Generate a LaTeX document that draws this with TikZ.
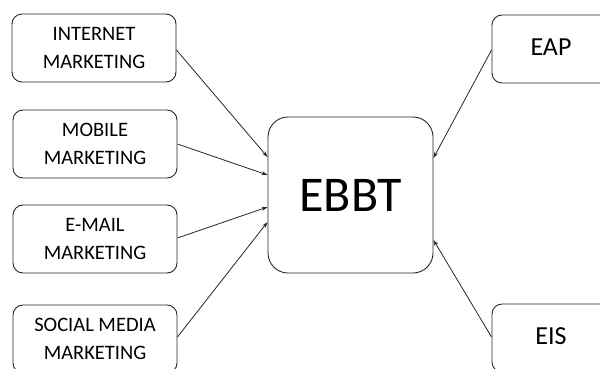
\documentclass[tikz,border=0pt]{standalone}
\usepackage{fontspec}
\setmainfont{Carlito}
\usetikzlibrary{arrows.meta,calc}
\begin{document}
\begin{tikzpicture}[x=1pt,y=-1pt,
  box/.style={draw=black!85,line width=0.9pt,rounded corners=10pt,align=center,
    inner sep=0pt,minimum width=164pt,minimum height=68pt,
    font=\fontsize{20.5}{28.5}\selectfont},
  sbox/.style={box,minimum width=118pt,font=\fontsize{26}{30}\selectfont},
  big/.style={draw=black!85,line width=0.9pt,rounded corners=20pt,inner sep=0pt,
    minimum width=165pt,minimum height=156pt,font=\fontsize{50}{56}\selectfont},
  arr/.style={-{Stealth[length=6pt,width=4pt]},line width=0.8pt,black!85}]
\useasboundingbox (0,0) rectangle (600,368);
\node[box] (inet) at (94,48) {INTERNET\\MARKETING};
\node[box] (mob) at (95,144) {MOBILE\\MARKETING};
\node[box] (mail) at (95,239) {E-MAIL\\MARKETING};
\node[box] (soc) at (95,339) {SOCIAL MEDIA\\MARKETING};
\node[big] (ebbt) at (350.5,195) {EBBT};
\node[sbox] (eap) at (551,49) {\raisebox{4pt}{EAP}};
\node[sbox] (eis) at (551,338) {\raisebox{3pt}{EIS}};
\draw[arr] ($(inet.east)+(0,2)$) -- ($(ebbt.west)+(0,-38)$);
\draw[arr] (mob.east) -- ($(ebbt.west)+(0,-20)$);
\draw[arr] ($(mail.east)+(0,-1)$) -- ($(ebbt.west)+(0,12)$);
\draw[arr] ($(soc.east)+(0,-2)$) -- ($(ebbt.west)+(0,27)$);
\draw[arr] ($(eap.west)+(0,1)$) -- ($(ebbt.east)+(0,-37)$);
\draw[arr] ($(eis.west)+(0,-1)$) -- ($(ebbt.east)+(0,45)$);
\end{tikzpicture}
\end{document}
